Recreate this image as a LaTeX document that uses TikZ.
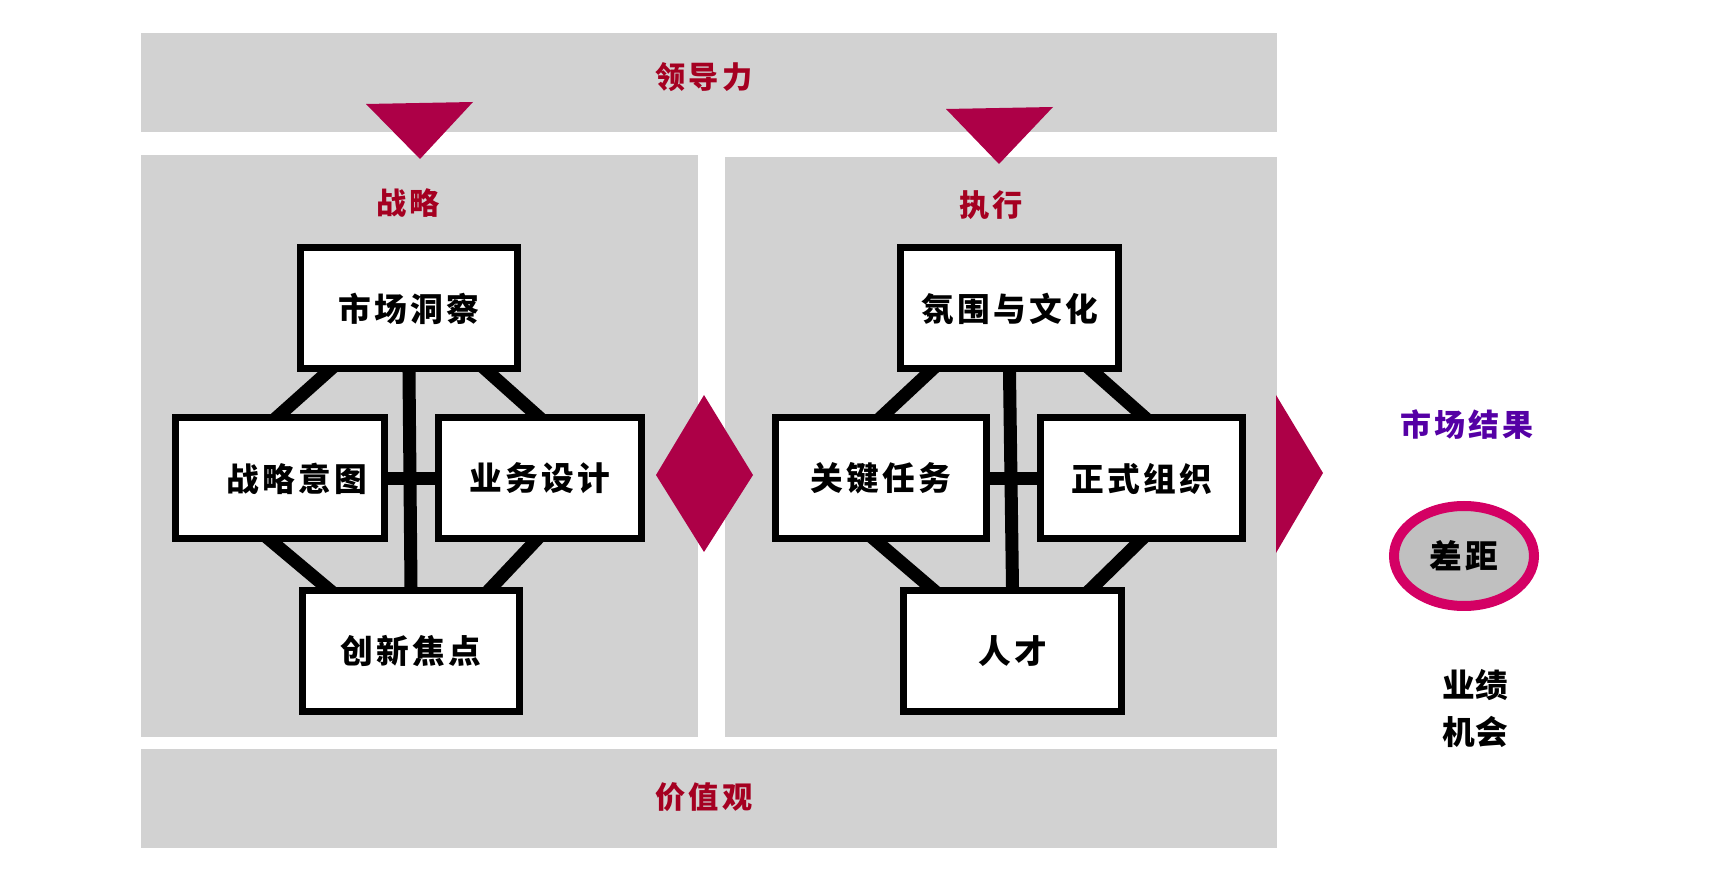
\documentclass[tikz,border=0pt]{standalone}
\usepackage{fontspec}
\newfontfamily\cjk{Noto Sans CJK SC}[LetterSpace=10]
\newfontfamily\cjktight{Noto Sans CJK SC}
\usetikzlibrary{calc,positioning,shapes.geometric}
\definecolor{panelgray}{RGB}{210,210,210}
\definecolor{titlered}{RGB}{165,0,33}
\definecolor{wedgered}{RGB}{173,0,71}
\definecolor{gapborder}{RGB}{212,0,100}
\definecolor{gapfill}{RGB}{192,192,192}
\definecolor{resultpurple}{RGB}{85,0,165}
\pgfdeclarelayer{bg}
\pgfdeclarelayer{wires}
\pgfsetlayers{bg,wires,main}

\begin{document}
\begin{tikzpicture}[x=0.1mm,y=0.1mm,
    box/.style={draw, line width=0.7mm, fill=white, inner sep=0pt, minimum height=12.1mm,
        font=\cjk\bfseries\fontsize{9.3pt}{11pt}\selectfont},
    wire/.style={line width=1.3mm, shorten <=-2mm, shorten >=-2mm},
    head/.style={text=titlered, font=\cjk\bfseries\fontsize{8.6pt}{10pt}\selectfont},
    wedge/.style={fill=wedgered}
]
\useasboundingbox (0,0) rectangle (1732,876);

% bands and panels
\begin{pgfonlayer}{bg}
\fill[panelgray] (141,744) rectangle (1277,843);
\fill[panelgray] (141,139) rectangle (698,721);
\fill[panelgray] (725,139) rectangle (1277,719);
\fill[panelgray] (141,28) rectangle (1277,127);
\fill[wedge] (366,772) -- (473,774) -- (420,717) -- cycle;
\fill[wedge] (946,767) -- (1053,769) -- (999,712) -- cycle;
\fill[wedge] (656,401) -- (704,481) -- (753,401) -- (704,324) -- cycle;
\fill[wedge] (1276,481) -- (1323,403) -- (1276,323) -- cycle;
\end{pgfonlayer}

\node[head] (lead) at (704,799) {领导力};
\node[head] (strat) at (408,673) {战略};
\node[head] (exec) at (991,671) {执行};
\node[head] (vals) at (704,79) {价值观};

% strategy
\node[box, minimum width=21.7mm] (mkt) at (409,567.5) {市场洞察};
\node[box, minimum width=20.9mm] (intent) at (280,397.5) {\hspace*{3.4mm}战略意图};
\node[box, minimum width=20.3mm] (design) at (540,397.5) {业务设计};
\node[box, minimum width=21.7mm] (innov) at (411,225) {创新焦点};

% execution
\node[box, minimum width=21.8mm] (climate) at (1009.5,567.5) {氛围与文化};
\node[box, minimum width=21.1mm] (tasks) at (881,397.5) {关键任务};
\node[box, minimum width=20.2mm] (org) at (1141.5,397.5) {正式组织};
\node[box, minimum width=21.8mm] (talent) at (1012.5,225) {人才};

\begin{pgfonlayer}{wires}
\draw[wire] (mkt.south) -- (innov.north);
\draw[wire] (intent.east) -- (design.west);
\draw[wire] ($(mkt.south west)+(30,0)$) -- (intent.north);
\draw[wire] ($(mkt.south east)+(-32,0)$) -- ($(design.north)+(-4,0)$);
\draw[wire] ($(intent.south)+(-7,0)$) -- ($(innov.north west)+(27,0)$);
\draw[wire] ($(design.south)+(-6,0)$) -- ($(innov.north east)+(-31,0)$);
\draw[wire] (climate.south) -- (talent.north);
\draw[wire] (tasks.east) -- (org.west);
\draw[wire] ($(climate.south west)+(32,0)$) -- ($(tasks.north)+(3,0)$);
\draw[wire] ($(climate.south east)+(-28,0)$) -- (org.north);
\draw[wire] ($(tasks.south)+(-3,0)$) -- ($(talent.north west)+(30,0)$);
\draw[wire] ($(org.south)+(-3,0)$) -- ($(talent.north east)+(-32,0)$);
\end{pgfonlayer}

% market result
\node[text=resultpurple, font=\cjk\bfseries\fontsize{8.8pt}{10pt}\selectfont] (result) at (1467,451) {市场结果};
\node[ellipse, draw=gapborder, line width=1mm, fill=gapfill, minimum width=14mm, minimum height=10mm,
    font=\cjk\bfseries\fontsize{9.3pt}{11pt}\selectfont] (gap) at (1464,320) {差距};
\node[align=center, font=\cjktight\bfseries\fontsize{9.3pt}{13.4pt}\selectfont] (perf) at (1475,167.5) {业绩\\机会};
\end{tikzpicture}
\end{document}
